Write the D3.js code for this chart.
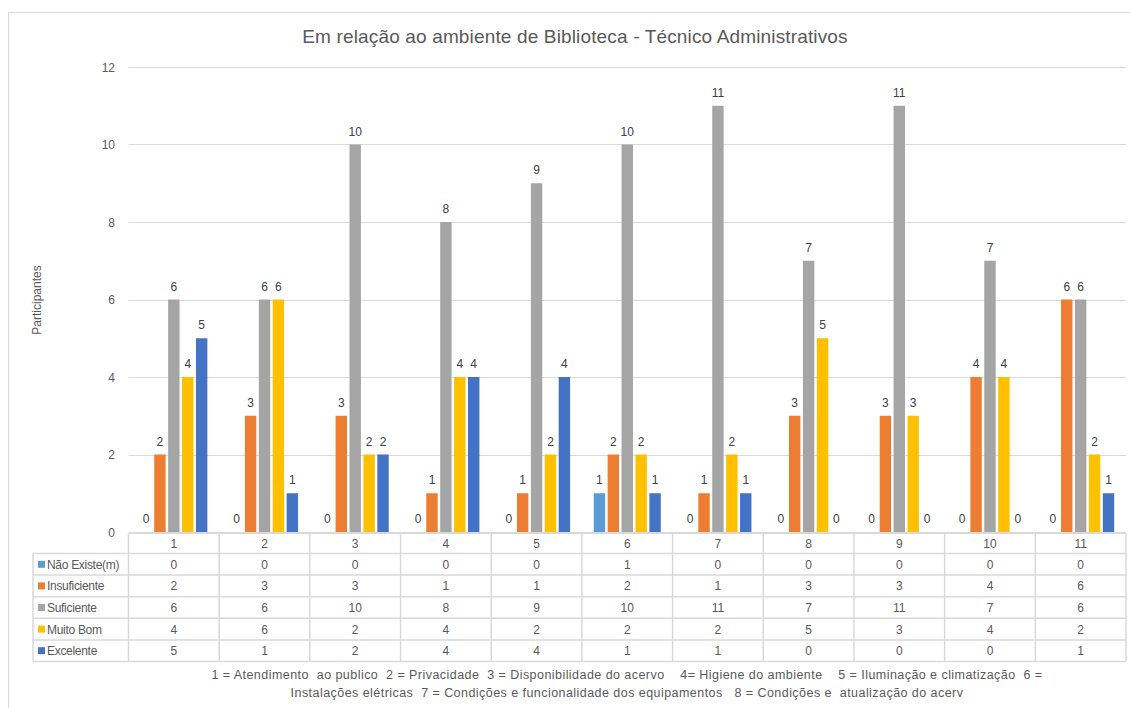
<!DOCTYPE html>
<html>
<head>
<meta charset="utf-8">
<script src="https://cdn.jsdelivr.net/npm/d3@7"></script>
<style>
  html, body { margin: 0; padding: 0; background: #fff; }
  svg { display: block; }
  text { font-family: "Liberation Sans", "Open Sans", sans-serif; }
</style>
</head>
<body>
<svg id="chart" width="1130" height="708"></svg>
<script>
// ---- data ----
const categories = ["1", "2", "3", "4", "5", "6", "7", "8", "9", "10", "11"];
const seriesNames = ["Não Existe(m)", "Insuficiente", "Suficiente", "Muito Bom", "Excelente"];
const naoExiste   = [0, 0, 0, 0, 0, 1, 0, 0, 0, 0, 0];
const insuficiente = [2, 3, 3, 1, 1, 2, 1, 3, 3, 4, 6];
const suficiente  = [6, 6, 10, 8, 9, 10, 11, 7, 11, 7, 6];
const muitoBom    = [4, 6, 2, 4, 2, 2, 2, 5, 3, 4, 2];
const excelente   = [5, 1, 2, 4, 4, 1, 1, 0, 0, 0, 1];
const yTicks = [0, 2, 4, 6, 8, 10, 12];
const title = "Em relação ao ambiente de Biblioteca - Técnico Administrativos";
const yTitle = "Participantes";
const footLines = [
  "1 = Atendimento  ao publico  2 = Privacidade  3 = Disponibilidade do acervo    4= Higiene do ambiente    5 = Iluminação e climatização  6 =",
  "Instalações elétricas  7 = Condições e funcionalidade dos equipamentos   8 = Condições e  atualização do acerv"
];
const colors = ["#5B9BD5", "#ED7D31", "#A5A5A5", "#FFC000", "#4472C4"];

const seriesValues = [naoExiste, insuficiente, suficiente, muitoBom, excelente];

// ---- layout ----
const svg = d3.select("#chart");
const plotLeft = 128.5, plotRight = 1126, plotTop = 67, plotBottom = 532;
const tableLeft = 33;
const rowH = 21.6;
const headerTop = plotBottom + 1.5, headerH = 20;

// outer border
svg.append("rect").attr("x", 8.5).attr("y", 12.5).attr("width", 1140).attr("height", 720)
  .attr("fill", "none").attr("stroke", "#d9d9d9").attr("stroke-width", 1);

const x = d3.scaleBand().domain(categories).range([plotLeft, plotRight]).paddingInner(0).paddingOuter(0);
const xs = d3.scaleBand().domain(d3.range(seriesNames.length)).range([0, x.bandwidth()])
  .paddingInner(0.18).paddingOuter(0.85);
const y = d3.scaleLinear().domain([0, 12]).range([plotBottom, plotTop]);

// gridlines
svg.append("g").selectAll("line").data(yTicks).join("line")
  .attr("x1", plotLeft).attr("x2", plotRight)
  .attr("y1", d => Math.round(y(d)) + 0.5).attr("y2", d => Math.round(y(d)) + 0.5)
  .attr("stroke", "#d9d9d9").attr("stroke-width", 1);

// y tick labels
svg.append("g").selectAll("text").data(yTicks).join("text")
  .attr("x", 115).attr("y", d => y(d) + 4.5)
  .attr("text-anchor", "end").attr("font-size", 12).attr("fill", "#595959")
  .text(d => d);

// title
svg.append("text").attr("x", 575).attr("y", 43).attr("text-anchor", "middle")
  .attr("font-size", 19).attr("letter-spacing", 0.15).attr("fill", "#595959").text(title);

// y axis title
svg.append("text").attr("transform", "translate(41,300) rotate(-90)")
  .attr("text-anchor", "middle").attr("font-size", 12).attr("fill", "#595959").text(yTitle);

// bars
const barData = [];
categories.forEach((c, ci) => {
  seriesValues.forEach((vals, si) => barData.push({ c, si, v: vals[ci] }));
});
const gBars = svg.append("g");
gBars.selectAll("rect").data(barData).join("rect")
  .attr("x", d => x(d.c) + xs(d.si))
  .attr("width", xs.bandwidth())
  .attr("y", d => y(d.v))
  .attr("height", d => y(0) - y(d.v))
  .attr("fill", d => colors[d.si]);

// data labels
gBars.selectAll("text").data(barData).join("text")
  .attr("x", d => x(d.c) + xs(d.si) + xs.bandwidth() / 2)
  .attr("y", d => y(d.v) - 9)
  .attr("text-anchor", "middle").attr("font-size", 12).attr("fill", "#404040")
  .text(d => d.v);

// ---- data table ----
const gT = svg.append("g");
const lineColor = "#d9d9d9";
const tableBottom = headerTop + headerH + rowH * seriesNames.length;
gT.append("line").attr("x1", plotLeft).attr("x2", plotRight)
  .attr("y1", headerTop).attr("y2", headerTop).attr("stroke", lineColor);
d3.range(seriesNames.length + 1).forEach(i => {
  const yy = headerTop + headerH + rowH * i;
  gT.append("line").attr("x1", tableLeft).attr("x2", plotRight)
    .attr("y1", yy).attr("y2", yy).attr("stroke", lineColor).attr("stroke-width", 1.5);
});
const bounds = categories.map(c => x(c)).concat([plotRight]);
gT.selectAll("line.v").data(bounds).join("line").attr("class", "v")
  .attr("x1", d => d).attr("x2", d => d)
  .attr("y1", headerTop).attr("y2", tableBottom)
  .attr("stroke", lineColor).attr("stroke-width", 1.5);
gT.append("line").attr("x1", tableLeft).attr("x2", tableLeft)
  .attr("y1", headerTop + headerH).attr("y2", tableBottom).attr("stroke", lineColor).attr("stroke-width", 1.5);

gT.selectAll("text.h").data(categories).join("text").attr("class", "h")
  .attr("x", d => x(d) + x.bandwidth() / 2).attr("y", headerTop + headerH / 2 + 4.5)
  .attr("text-anchor", "middle").attr("font-size", 12).attr("fill", "#595959").text(d => d);

seriesNames.forEach((name, si) => {
  const cy = headerTop + headerH + rowH * si + rowH / 2;
  gT.append("rect").attr("x", 38).attr("y", cy - 3.5).attr("width", 7).attr("height", 7).attr("fill", colors[si]);
  gT.append("text").attr("x", 47).attr("y", cy + 4.5).attr("font-size", 12).attr("fill", "#595959")
    .attr("letter-spacing", -0.3).text(name);
  gT.selectAll("text.r" + si).data(seriesValues[si]).join("text").attr("class", "r" + si)
    .attr("x", (d, i) => x(categories[i]) + x.bandwidth() / 2).attr("y", cy + 4.5)
    .attr("text-anchor", "middle").attr("font-size", 12).attr("fill", "#595959").text(d => d);
});

// footnote
footLines.forEach((t, i) => {
  svg.append("text").attr("x", 627).attr("y", 679 + i * 18).attr("text-anchor", "middle")
    .attr("font-size", 12.5).attr("fill", "#595959").attr("letter-spacing", 0.45)
    .attr("xml:space", "preserve").style("white-space", "pre").text(t);
});
</script>
</body>
</html>
